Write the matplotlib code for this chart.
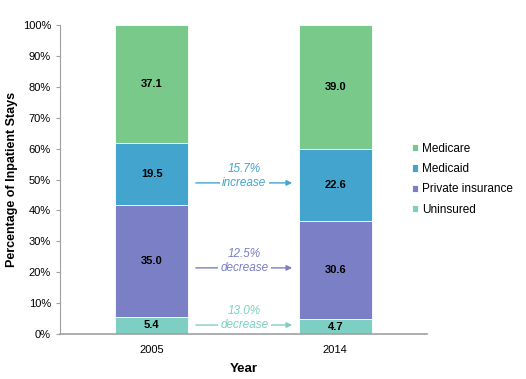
import matplotlib
matplotlib.use("Agg")
import matplotlib.pyplot as plt
import numpy as np

plt.rcParams['font.family'] = ['Liberation Sans', 'DejaVu Sans']

years = ["2005", "2014"]
series = ["Uninsured", "Private insurance", "Medicaid", "Medicare"]
values = {
    "Uninsured": [5.4, 4.7],
    "Private insurance": [35.0, 30.6],
    "Medicaid": [19.5, 22.6],
    "Medicare": [37.1, 39.0],
}
colors = {
    "Uninsured": "#7DCFC3",
    "Private insurance": "#7A7FC6",
    "Medicaid": "#43A5CE",
    "Medicare": "#78C98A",
}
changes = ["13.0%\ndecrease", "12.5%\ndecrease", "15.7%\nincrease"]
change_series = ["Uninsured", "Private insurance", "Medicaid"]

fig = plt.figure(figsize=(5.26, 3.79), dpi=100)
ax = fig.add_axes([60/526, 1-334/379, 367/526, 309/379])

x = np.arange(len(years))
totals = np.sum([values[s] for s in series], axis=0)
bottom = np.zeros(len(years))
handles = {}
for s in series:
    raw = np.array(values[s])
    v = raw / totals * 100
    b = ax.bar(x, v, 0.4, bottom=bottom, color=colors[s], edgecolor='white', linewidth=0.6, label=s)
    handles[s] = b
    for xi, vi, bi, ri in zip(x, v, bottom, raw):
        ax.text(xi, bi + vi/2, f"{ri:.1f}", ha='center', va='center', fontsize=8, fontweight='bold', color='black')
    bottom += v

arrow_y = {"Uninsured": 2.9, "Private insurance": 21.4, "Medicaid": 48.9}
for s, txt in zip(change_series, changes):
    y = arrow_y[s]
    c = colors[s]
    ax.annotate("", xy=(0.78, y), xytext=(0.225, y),
                arrowprops=dict(arrowstyle='-|>', color=c, lw=1.0, mutation_scale=8))
    pct, word = txt.split("\n")
    ax.text(0.505, y + 4.6, pct, ha='center', va='center', fontsize=8.5, style='italic', color=c)
    ax.text(0.505, y, word, ha='center', va='center', fontsize=8.5, style='italic', color=c,
            bbox=dict(facecolor='white', edgecolor='none', pad=1.5))

ax.set_xlim(-0.5, 1.5)
ax.set_ylim(0, 100)
ax.set_xticks(x)
ax.set_xticklabels(years, fontsize=8)
ax.set_yticks(np.arange(0, 101, 10))
ax.set_yticklabels([f"{t}%" for t in range(0, 101, 10)], fontsize=8)
ax.tick_params(axis='x', length=0, pad=8)
ax.tick_params(axis='y', length=3, color='#A0A0A0', width=0.8)
for sp in ['top', 'right']:
    ax.spines[sp].set_visible(False)
for sp in ['left', 'bottom']:
    ax.spines[sp].set_color('#A0A0A0')
ax.spines['bottom'].set_linewidth(1.2)
ax.set_ylabel("Percentage of Inpatient Stays", fontsize=9, fontweight='bold', labelpad=3)
ax.set_xlabel("Year", fontsize=9.5, fontweight='bold', labelpad=6)

leg_order = ["Medicare", "Medicaid", "Private insurance", "Uninsured"]
fig.legend([handles[s] for s in leg_order], leg_order, loc='upper left',
           bbox_to_anchor=(406/526, 1-137/379), frameon=False, fontsize=8.5,
           handlelength=0.55, handleheight=0.55, handletextpad=0.3, labelspacing=0.7,
           borderpad=0)

fig.savefig("out.png", dpi=100)
